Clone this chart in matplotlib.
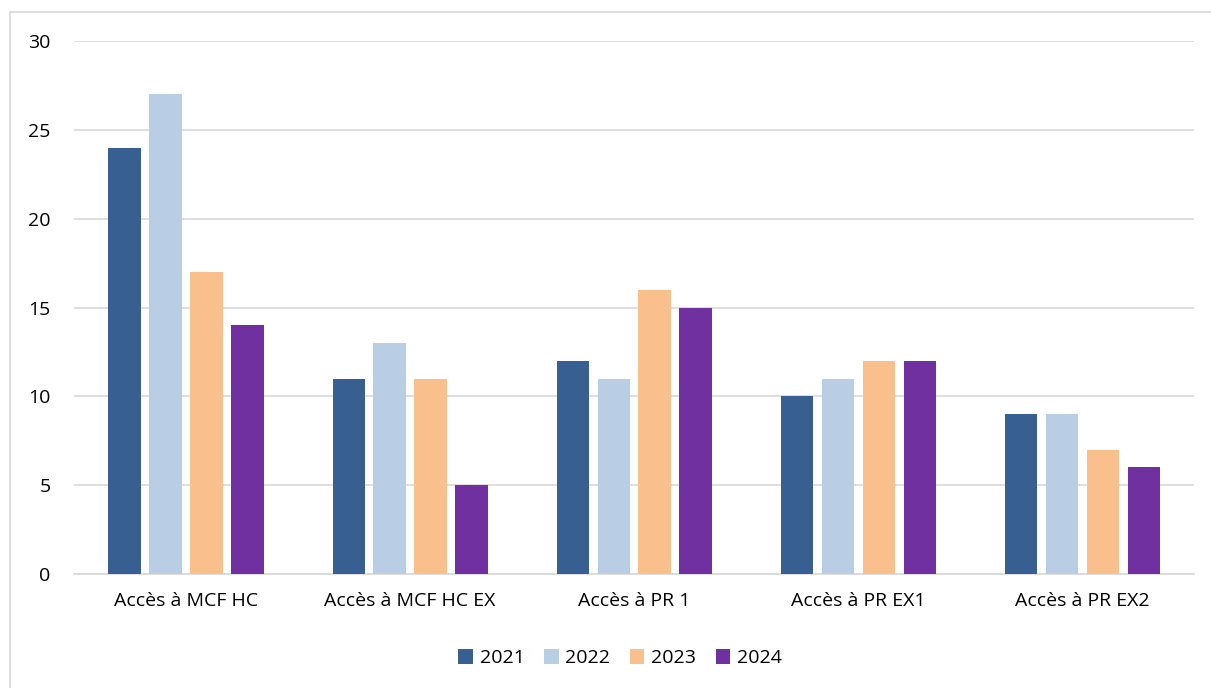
import matplotlib.pyplot as plt
import numpy as np
from matplotlib.patches import Rectangle

categories = ["Accès à MCF HC", "Accès à MCF HC EX", "Accès à PR 1", "Accès à PR EX1", "Accès à PR EX2"]
years = ["2021", "2022", "2023", "2024"]
v2021 = [24, 11, 12, 10, 9]
v2022 = [27, 13, 11, 11, 9]
v2023 = [17, 11, 16, 12, 7]
v2024 = [14, 5, 15, 12, 6]
series = [v2021, v2022, v2023, v2024]
colors = ["#375F92", "#B9CDE5", "#F9C08E", "#7030A0"]

plt.rcParams['font.family'] = ['Open Sans', 'DejaVu Sans']

fig = plt.figure(figsize=(12.11, 6.88), dpi=100)
ax = fig.add_axes([0.0611, 0.1657, 0.9249, 0.7747])

x = np.arange(len(categories))
w = 0.143
pitch = 0.183
for i, (vals, c, yr) in enumerate(zip(series, colors, years)):
    ax.bar(x + (i - 1.5) * pitch, vals, width=w, color=c, label=yr, zorder=3)

ax.set_xlim(-0.5, len(categories) - 0.5)
ax.set_ylim(0, 30)
ax.set_yticks(range(0, 31, 5))
ax.set_xticks(x)
ax.set_xticklabels(categories)
ax.tick_params(length=0, labelsize=14, colors="#000000")
ax.tick_params(axis='y', pad=17)
ax.tick_params(axis='x', pad=13)
ax.grid(axis='y', color="#D9D9D9", linewidth=1.2, zorder=0)
for s in ['top', 'right', 'left']:
    ax.spines[s].set_visible(False)
ax.spines['bottom'].set_color("#D9D9D9")
ax.spines['bottom'].set_linewidth(1.2)

ax.legend(loc='center', bbox_to_anchor=(0.4875, -0.158), ncol=4, frameon=False,
          fontsize=14, handlelength=0.75, handleheight=0.75, handletextpad=0.35,
          columnspacing=1.0)

fig.patches.append(Rectangle((0.0083, -0.1), 1.2, 1.0826, transform=fig.transFigure,
                             fill=False, edgecolor="#D9D9D9", linewidth=1.2))

fig.savefig("out.png", dpi=100)
